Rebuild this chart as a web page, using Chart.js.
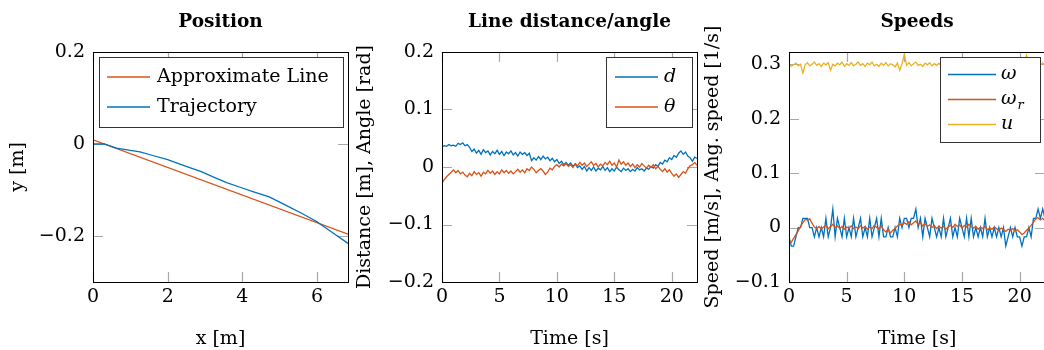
<!DOCTYPE html>
<html>
<head>
<meta charset="utf-8">
<script src="https://cdn.jsdelivr.net/npm/chart.js@4/dist/chart.umd.min.js"></script>
<style>
  html, body { margin: 0; padding: 0; background: #fff; }
  body { width: 1044px; height: 350px; overflow: hidden; position: relative; }
  canvas { position: absolute; top: 0; }
</style>
</head>
<body>
<canvas id="position" width="350" height="350" style="left:0"></canvas>
<canvas id="lineDist" width="350" height="350" style="left:350px"></canvas>
<canvas id="speeds" width="350" height="350" style="left:700px"></canvas>
<script>
//================================
// Data
//================================

// position plot: fitted line and driven path (x [m], y [m])
const lineX = [0, 6.83];
const lineY = [0.009, -0.196];
const trajX = [0, 0.3, 0.63, 1.0, 1.26, 1.6, 2.0, 2.4, 2.9, 3.2, 3.58, 3.94, 4.3, 4.72, 5.16, 5.6, 6.0, 6.12, 6.44, 6.83];
const trajY = [0, 0, -0.009, -0.014, -0.017, -0.025, -0.034, -0.046, -0.060, -0.071, -0.084, -0.094, -0.104, -0.115, -0.133, -0.151, -0.169, -0.176, -0.194, -0.216];

// sample times [s] shared by the two time plots
const time = [
  0,0.2,0.4,0.6,0.8,1,1.2,1.4,1.6,1.8,
  2,2.2,2.4,2.6,2.8,3,3.2,3.4,3.6,3.8,
  4,4.2,4.4,4.6,4.8,5,5.2,5.4,5.6,5.8,
  6,6.2,6.4,6.6,6.8,7,7.2,7.4,7.6,7.8,
  8,8.2,8.4,8.6,8.8,9,9.2,9.4,9.6,9.8,
  10,10.2,10.4,10.6,10.8,11,11.2,11.4,11.6,11.8,
  12,12.2,12.4,12.6,12.8,13,13.2,13.4,13.6,13.8,
  14,14.2,14.4,14.6,14.8,15,15.2,15.4,15.6,15.8,
  16,16.2,16.4,16.6,16.8,17,17.2,17.4,17.6,17.8,
  18,18.2,18.4,18.6,18.8,19,19.2,19.4,19.6,19.8,
  20,20.2,20.4,20.6,20.8,21,21.2,21.4,21.6,21.8,
  22,22.2
];

// distance to line d [m]
const distD = [
  0.035,0.037,0.036,0.039,0.037,0.038,0.036,0.041,0.039,0.042,
  0.037,0.039,0.034,0.027,0.031,0.024,0.029,0.022,0.030,0.025,
  0.028,0.021,0.027,0.023,0.029,0.022,0.027,0.020,0.026,0.023,
  0.028,0.021,0.025,0.019,0.026,0.022,0.025,0.020,0.024,0.011,
  0.016,0.012,0.018,0.013,0.019,0.014,0.017,0.011,0.015,0.009,
  0.013,0.006,0.010,0.004,0.008,0.003,0.007,0.001,0.005,-0.001,
  0.002,-0.004,0.001,-0.007,-0.001,-0.006,0.000,-0.007,-0.002,-0.005,
  0.001,-0.006,-0.001,-0.008,-0.003,-0.007,0.000,-0.005,-0.008,-0.002,
  -0.006,-0.003,-0.008,-0.004,-0.007,-0.001,-0.005,-0.003,-0.007,-0.002,
  -0.004,0.001,-0.002,0.004,0.001,0.008,0.005,0.012,0.009,0.016,
  0.013,0.020,0.017,0.024,0.028,0.022,0.026,0.019,0.016,0.010,
  0.017,0.015
];

// angle to line theta [rad]
const angleTheta = [
  -0.028,-0.022,-0.017,-0.013,-0.009,-0.005,-0.010,-0.006,-0.012,-0.009,
  -0.014,-0.017,-0.011,-0.015,-0.008,-0.013,-0.010,-0.016,-0.009,-0.012,
  -0.006,-0.011,-0.007,-0.013,-0.008,-0.012,-0.005,-0.010,-0.006,-0.011,
  -0.007,-0.012,-0.008,-0.004,-0.009,-0.005,-0.010,-0.003,-0.006,0.000,
  -0.004,-0.010,-0.006,-0.003,-0.007,-0.013,-0.009,-0.002,-0.005,0.001,
  0.004,0.000,0.005,0.002,0.006,0.001,0.004,-0.001,0.006,0.002,
  0.008,0.003,0.007,0.001,0.005,0.009,0.003,0.006,0.000,0.005,
  0.002,0.008,0.004,0.010,0.003,0.007,0.000,0.012,0.005,0.009,
  0.003,0.007,0.001,0.005,-0.001,0.004,0.000,0.006,0.002,-0.002,
  0.003,-0.001,0.004,-0.003,0.001,-0.004,-0.008,-0.003,-0.009,-0.005,
  -0.011,-0.016,-0.012,-0.018,-0.013,-0.008,-0.011,-0.003,0.002,0.004,
  0.008,0.003
];

// measured angular speed omega [1/s]
const omega = [
  -0.017,-0.034,-0.034,-0.017,0,0,0.017,0.017,0.017,0,
  0,-0.017,0,-0.017,0,-0.017,0.017,-0.017,0,0.034,
  -0.017,0.017,0,-0.017,0.017,-0.017,0,-0.017,0.017,-0.017,
  0,0.017,-0.017,0,-0.017,0.017,-0.017,0,0.017,-0.017,
  0.017,-0.017,-0.017,0,-0.017,-0.017,0,-0.017,0.017,0,
  0.017,0.017,0,0.017,0.017,0.034,0,0.017,-0.017,0.017,
  0,-0.017,0.017,0,-0.017,0,-0.017,0.017,-0.017,0,
  0.017,-0.017,0,-0.017,0.017,0,-0.017,0.017,-0.017,0.017,
  -0.017,0,-0.017,0,-0.017,0.017,-0.017,0,-0.017,0,
  -0.017,0,-0.017,0,-0.034,-0.017,0,-0.017,0,-0.017,
  -0.017,-0.034,-0.017,-0.017,0,-0.017,0.017,0.017,0.034,0.017,
  0.034,0.017
];

// commanded angular speed omega_r [1/s]
const omegaRef = [
  -0.030,-0.027,-0.020,-0.013,-0.006,0.002,0.009,0.015,0.014,0.016,
  0.008,0.001,-0.002,0.002,-0.003,0.001,0.004,-0.002,0.002,0.006,
  0.000,0.003,-0.002,0.002,-0.003,0.001,-0.001,0.003,-0.002,0.001,
  -0.002,0.003,-0.001,0.002,-0.003,0.001,-0.002,0.004,0.000,-0.002,
  0.003,-0.004,-0.008,-0.003,-0.010,-0.005,-0.002,0.003,0.006,0.004,
  0.009,0.006,0.011,0.005,0.009,0.012,0.006,0.009,0.003,0.007,
  0.002,0.005,0.000,0.004,-0.002,0.003,-0.001,0.002,-0.003,0.001,
  0.004,0.000,0.006,0.002,0.005,-0.001,0.004,0.001,0.006,0.002,
  -0.001,0.002,-0.003,0.001,-0.002,0.002,-0.004,-0.001,-0.003,0.001,
  -0.002,-0.005,-0.001,-0.004,-0.007,-0.003,-0.005,-0.002,-0.006,-0.004,
  -0.008,-0.013,-0.010,-0.005,-0.001,0.004,0.010,0.016,0.018,0.014,
  0.017,0.012
];

// forward speed u [m/s]
const speedU = [
  0.301,0.296,0.299,0.302,0.297,0.300,0.284,0.299,0.303,0.297,
  0.300,0.304,0.298,0.301,0.296,0.302,0.299,0.303,0.289,0.300,
  0.297,0.302,0.299,0.304,0.296,0.301,0.298,0.303,0.297,0.300,
  0.304,0.298,0.301,0.296,0.302,0.299,0.304,0.297,0.300,0.296,
  0.302,0.298,0.303,0.297,0.301,0.299,0.295,0.302,0.289,0.301,
  0.318,0.298,0.303,0.297,0.301,0.304,0.298,0.300,0.296,0.302,
  0.299,0.303,0.297,0.301,0.298,0.302,0.296,0.300,0.303,0.298,
  0.301,0.297,0.302,0.299,0.304,0.298,0.300,0.296,0.302,0.299,
  0.303,0.297,0.301,0.298,0.302,0.296,0.300,0.303,0.298,0.301,
  0.297,0.302,0.299,0.304,0.298,0.300,0.296,0.302,0.299,0.303,
  0.298,0.301,0.297,0.316,0.300,0.298,0.302,0.297,0.301,0.299,
  0.302,0.298
];

// tick positions
const posXTicks = [0, 2, 4, 6];
const posYTicks = [-0.2, 0, 0.2];
const timeTicks = [0, 5, 10, 15, 20];
const lineYTicks = [-0.2, -0.1, 0, 0.1, 0.2];
const speedYTicks = [-0.1, 0, 0.1, 0.2, 0.3];

//================================
// Styling helpers
//================================

const SERIF = '"DejaVu Serif", serif';
const BLUE = '#0072BD';
const RED = '#D95319';
const YELLOW = '#EDB120';

Chart.defaults.font.family = SERIF;
Chart.defaults.color = '#000';

function pts(xs, ys) {
    return xs.map((x, i) => ({x: x, y: ys[i]}));
}

//tick labels use a real minus sign
function fmt(v) {
    return v < 0 ? '\u2212' + (-v) : '' + v;
}

function series(label, xs, ys, color, order) {
    return {
        label: label,
        data: pts(xs, ys),
        borderColor: color,
        backgroundColor: color,
        borderWidth: 1.3,
        pointRadius: 0,
        tension: 0,
        fill: false,
        order: order
    };
}

//inward grey tick marks on all four sides, black frame and a boxed legend
const framePlugin = {
    id: 'frameLegend',
    beforeDatasetsDraw(chart) {
        const {ctx, chartArea: a, scales: {x, y}} = chart;
        const len = 10;
        ctx.save();
        ctx.strokeStyle = '#a8a8a8';
        ctx.lineWidth = 1.2;
        ctx.beginPath();
        x.ticks.forEach(t => {
            const px = Math.round(x.getPixelForValue(t.value)) + 0.5;
            ctx.moveTo(px, a.bottom); ctx.lineTo(px, a.bottom - len);
            ctx.moveTo(px, a.top); ctx.lineTo(px, a.top + len);
        });
        y.ticks.forEach(t => {
            const py = Math.round(y.getPixelForValue(t.value)) + 0.5;
            ctx.moveTo(a.left, py); ctx.lineTo(a.left + len, py);
            ctx.moveTo(a.right, py); ctx.lineTo(a.right - len, py);
        });
        ctx.stroke();
        ctx.restore();
    },
    afterDatasetsDraw(chart, args, opts) {
        const {ctx, chartArea: a} = chart;
        ctx.save();
        ctx.strokeStyle = '#000';
        ctx.lineWidth = 1;
        ctx.strokeRect(Math.round(a.left) + 0.5, Math.round(a.top) + 0.5,
            Math.round(a.right - a.left), Math.round(a.bottom - a.top));

        //legend box
        const sets = chart.data.datasets;
        const right = Math.round(a.right) - 5;
        const left = right - opts.width;
        const top = Math.round(a.top) + 5;
        const height = sets.length * opts.rowHeight + 10;
        ctx.fillStyle = '#fff';
        ctx.fillRect(left, top, opts.width, height);
        ctx.strokeStyle = '#333';
        ctx.strokeRect(left + 0.5, top + 0.5, opts.width, height);

        const fontStyle = opts.italic ? 'italic ' : '';
        sets.forEach((ds, i) => {
            const cy = top + 5 + opts.rowHeight * (i + 0.5);
            ctx.strokeStyle = ds.borderColor;
            ctx.lineWidth = ds.borderWidth;
            ctx.beginPath();
            ctx.moveTo(left + opts.padLeft, cy);
            ctx.lineTo(left + opts.padLeft + opts.lineLength, cy);
            ctx.stroke();

            const parts = ds.label.split('_');
            const tx = left + opts.padLeft + opts.lineLength + opts.gap;
            ctx.fillStyle = '#000';
            ctx.textBaseline = 'middle';
            ctx.textAlign = 'left';
            ctx.font = fontStyle + opts.fontSize + 'px ' + SERIF;
            ctx.fillText(parts[0], tx, cy);
            if (parts[1]) {
                const w = ctx.measureText(parts[0]).width;
                ctx.font = fontStyle + Math.round(opts.fontSize * 0.7) + 'px ' + SERIF;
                ctx.fillText(parts[1], tx + w + 1, cy + 6);
            }
        });
        ctx.restore();
    }
};

function axis(min, max, tickValues, title, fitSize, isX, titlePad) {
    return {
        type: 'linear',
        min: min,
        max: max,
        grid: {display: false, drawTicks: false},
        border: {display: false},
        afterBuildTicks: s => { s.ticks = tickValues.map(v => ({value: v})); },
        afterFit: s => { if (isX) { s.height = fitSize; } else { s.width = fitSize; } },
        ticks: {
            padding: isX ? 4 : 8,
            font: {size: 19},
            color: '#000',
            maxRotation: 0,
            autoSkip: false,
            callback: v => fmt(v)
        },
        title: {
            display: true,
            text: title,
            font: {size: 19},
            color: '#000',
            padding: titlePad
        }
    };
}

function makeChart(id, datasets, title, xScale, yScale, rightPad, legendOpts) {
    return new Chart(document.getElementById(id), {
        type: 'line',
        data: {datasets: datasets},
        options: {
            responsive: false,
            animation: false,
            devicePixelRatio: 1,
            events: [],
            layout: {padding: {top: 0, left: 0, bottom: 0, right: rightPad}},
            scales: {x: xScale, y: yScale},
            plugins: {
                legend: {display: false},
                tooltip: {enabled: false},
                title: {
                    display: true,
                    text: title,
                    fullSize: false,
                    color: '#000',
                    font: {size: 18.5, weight: 'bold'},
                    padding: {top: 11, bottom: 18.8}
                },
                frameLegend: legendOpts
            }
        },
        plugins: [framePlugin]
    });
}

//================================
// Charts
//================================

makeChart('position',
    [
        series('Approximate Line', lineX, lineY, RED, 1),
        series('Trajectory', trajX, trajY, BLUE, 0)
    ],
    'Position',
    axis(0, 6.83, posXTicks, 'x [m]', 68, true, {top: 0, bottom: 0}),
    axis(-0.3, 0.2, posYTicks, 'y [m]', 93, false, {top: 7, bottom: 0}),
    2,
    {width: 244, rowHeight: 30, padLeft: 8, lineLength: 43, gap: 7, fontSize: 19, italic: false}
);

makeChart('lineDist',
    [
        series('d', time, distD, BLUE, 1),
        series('\u03b8', time, angleTheta, RED, 0)
    ],
    'Line distance/angle',
    axis(0, 22.2, timeTicks, 'Time [s]', 68, true, {top: 0, bottom: 0}),
    axis(-0.2, 0.2, lineYTicks, 'Distance [m], Angle [rad]', 92, false, {top: 4, bottom: 0}),
    3,
    {width: 86, rowHeight: 30, padLeft: 9, lineLength: 43, gap: 6, fontSize: 19, italic: true}
);

makeChart('speeds',
    [
        series('\u03c9', time, omega, BLUE, 2),
        series('\u03c9_r', time, omegaRef, RED, 1),
        series('u', time, speedU, YELLOW, 0)
    ],
    'Speeds',
    axis(0, 22.2, timeTicks, 'Time [s]', 68, true, {top: 0, bottom: 0}),
    axis(-0.1, 0.3225, speedYTicks, 'Speed [m/s], Ang. speed [1/s]', 89, false, {top: 2, bottom: 0}),
    5,
    {width: 100, rowHeight: 25, padLeft: 8, lineLength: 48, gap: 5, fontSize: 19, italic: true}
);
</script>
</body>
</html>
